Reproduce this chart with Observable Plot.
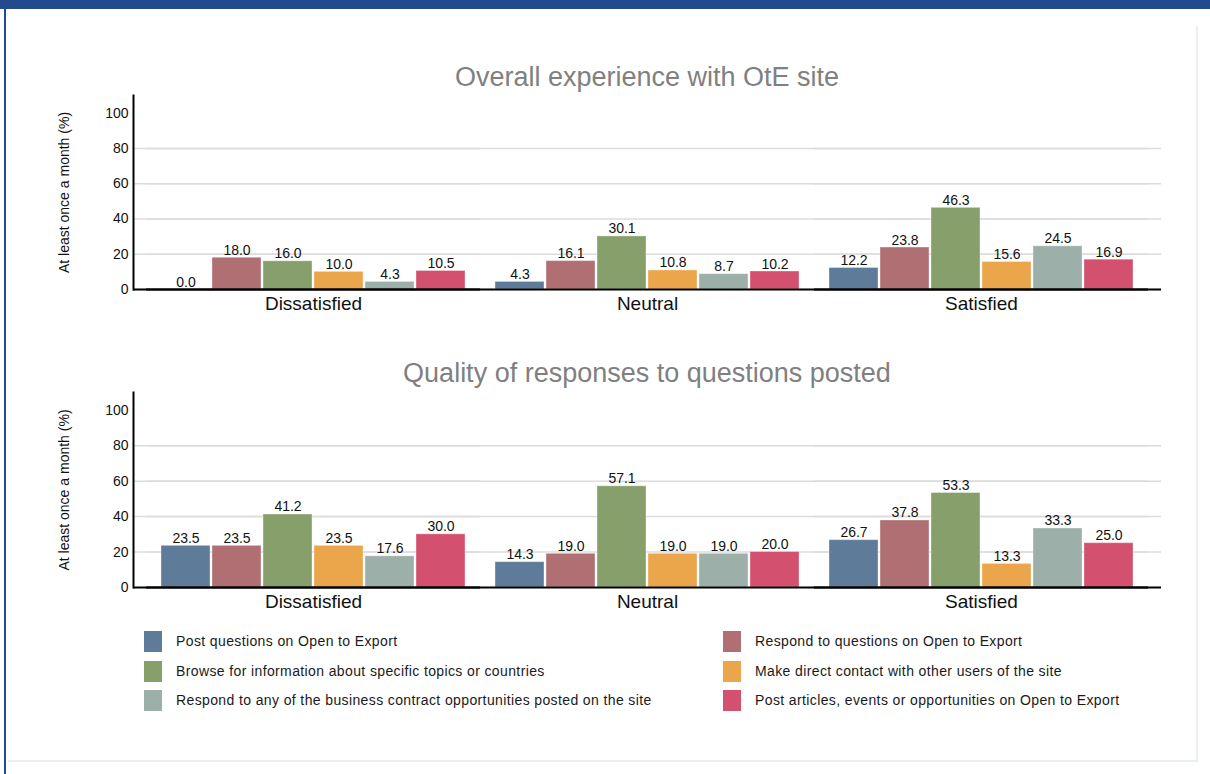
<!DOCTYPE html>
<html><head><meta charset="utf-8">
<script src="https://cdn.jsdelivr.net/npm/d3@7"></script>
<script src="https://cdn.jsdelivr.net/npm/@observablehq/plot@0.6"></script>
<style>
  html,body{margin:0;padding:0;background:#fff;}
  body{width:1210px;height:774px;position:relative;overflow:hidden;font-family:"Liberation Sans",Arial,Helvetica,sans-serif;}
  #topbar{position:absolute;left:0;top:0;width:1210px;height:9px;background:#234a8e;}
  #leftbar{position:absolute;left:4px;top:9px;width:2px;height:765px;background:#234a8e;}
  #cardR{position:absolute;left:1196px;top:26px;width:2px;height:736px;background:#e9eff3;}
  #cardB{position:absolute;left:8px;top:760px;width:1190px;height:2px;background:#e9eff3;}
  .title{position:absolute;left:133px;width:1028px;text-align:center;color:#808080;font-size:27px;height:30px;line-height:30px;}
  .chart{position:absolute;left:0;}
  #legend{position:absolute;left:0;top:0;}
  .item{position:absolute;height:22px;display:flex;align-items:center;font-size:14px;letter-spacing:0.38px;color:#1a1a1a;white-space:nowrap;}
  .sw{width:18px;height:21px;margin-right:14px;flex:none;}
</style>
</head><body>
<div id="topbar"></div><div id="leftbar"></div><div id="cardR"></div><div id="cardB"></div>
<div class="title" style="top:62px">Overall experience with OtE site</div>
<div id="c1" class="chart" style="top:85px"></div>
<div class="title" style="top:358px">Quality of responses to questions posted</div>
<div id="c2" class="chart" style="top:382px"></div>
<div id="legend"></div>
<script>
const groups = ["Dissatisfied", "Neutral", "Satisfied"];
const series = [
  "Post questions on Open to Export",
  "Respond to questions on Open to Export",
  "Browse for information about specific topics or countries",
  "Make direct contact with other users of the site",
  "Respond to any of the business contract opportunities posted on the site",
  "Post articles, events or opportunities on Open to Export"
];
const colors = ["#5e7c99", "#b07073", "#87a06b", "#eba64c", "#9cb0a9", "#d4506f"];
// values per group, in series order
const overallDissatisfied = [0.0, 18.0, 16.0, 10.0, 4.3, 10.5];
const overallNeutral      = [4.3, 16.1, 30.1, 10.8, 8.7, 10.2];
const overallSatisfied    = [12.2, 23.8, 46.3, 15.6, 24.5, 16.9];
const qualityDissatisfied = [23.5, 23.5, 41.2, 23.5, 17.6, 30.0];
const qualityNeutral      = [14.3, 19.0, 57.1, 19.0, 19.0, 20.0];
const qualitySatisfied    = [26.7, 37.8, 53.3, 13.3, 33.3, 25.0];
const yTicks = [0, 20, 40, 60, 80, 100];
const gridTicks = [0, 20, 40, 60, 80];
const yLabel = "At least once a month (%)";

function chart(valuesByGroup, marginBottom) {
  const data = groups.flatMap((g, gi) => series.map((s, si) => ({group: g, series: s, value: valuesByGroup[gi][si]})));
  const grid = {stroke: "#dcdcdc", strokeWidth: 1.5};
  const base = {stroke: "#000", strokeWidth: 2};
  return Plot.plot({
    width: 1210, height: 230,
    marginTop: 10, marginBottom, marginLeft: 146, marginRight: 62,
    style: {fontFamily: '"Liberation Sans",Arial,Helvetica,sans-serif', fontSize: "14px", color: "#111", background: "transparent", overflow: "visible"},
    fx: {domain: groups, padding: 0, label: null, axis: null},
    x: {domain: series, paddingInner: 0.04, paddingOuter: 0.28, axis: null},
    y: {domain: [0, 110], axis: null},
    color: {domain: series, range: colors},
    marks: [
      Plot.ruleY(gridTicks, grid),
      Plot.ruleY(gridTicks, {...grid, facetAnchor: "left", insetLeft: -13}),
      Plot.ruleY(gridTicks, {...grid, facetAnchor: "right", insetRight: -13}),
      Plot.barY(data, {fx: "group", x: "series", y: "value", fill: "series", stroke: "#fff", strokeOpacity: 0.35, strokeWidth: 1}),
      Plot.text(data, {fx: "group", x: "series", y: "value", text: d => d.value.toFixed(1), lineAnchor: "bottom", dy: -3, fontSize: 14, fill: "#111"}),
      Plot.ruleY([0], base),
      Plot.ruleY([0], {...base, facetAnchor: "left", insetLeft: -13}),
      Plot.ruleY([0], {...base, facetAnchor: "right", insetRight: -13}),
      Plot.axisY({ticks: yTicks, tickSize: 0, tickPadding: 18, fontSize: 14, label: yLabel, labelAnchor: "center", labelArrow: "none", labelOffset: 87}),
      Plot.axisFx({anchor: "bottom", tickSize: 0, tickPadding: 7, fontSize: 19, label: null}),
      Plot.frame({anchor: "left", facetAnchor: "left", stroke: "#000", strokeWidth: 2, insetLeft: -13})
    ]
  });
}

document.getElementById("c1").append(chart([overallDissatisfied, overallNeutral, overallSatisfied], 26));
document.getElementById("c2").append(chart([qualityDissatisfied, qualityNeutral, qualitySatisfied], 25));

// legend (two columns, three rows)
const legend = document.getElementById("legend");
const colX = [144, 723];
const rowY = [630, 660, 689];
series.forEach((s, i) => {
  const item = document.createElement("div");
  item.className = "item";
  item.style.left = colX[i % 2] + "px";
  item.style.top = rowY[Math.floor(i / 2)] + "px";
  const sw = document.createElement("div");
  sw.className = "sw";
  sw.style.background = colors[i];
  const t = document.createElement("span");
  t.textContent = s;
  item.append(sw, t);
  legend.append(item);
});
</script>
</body></html>
